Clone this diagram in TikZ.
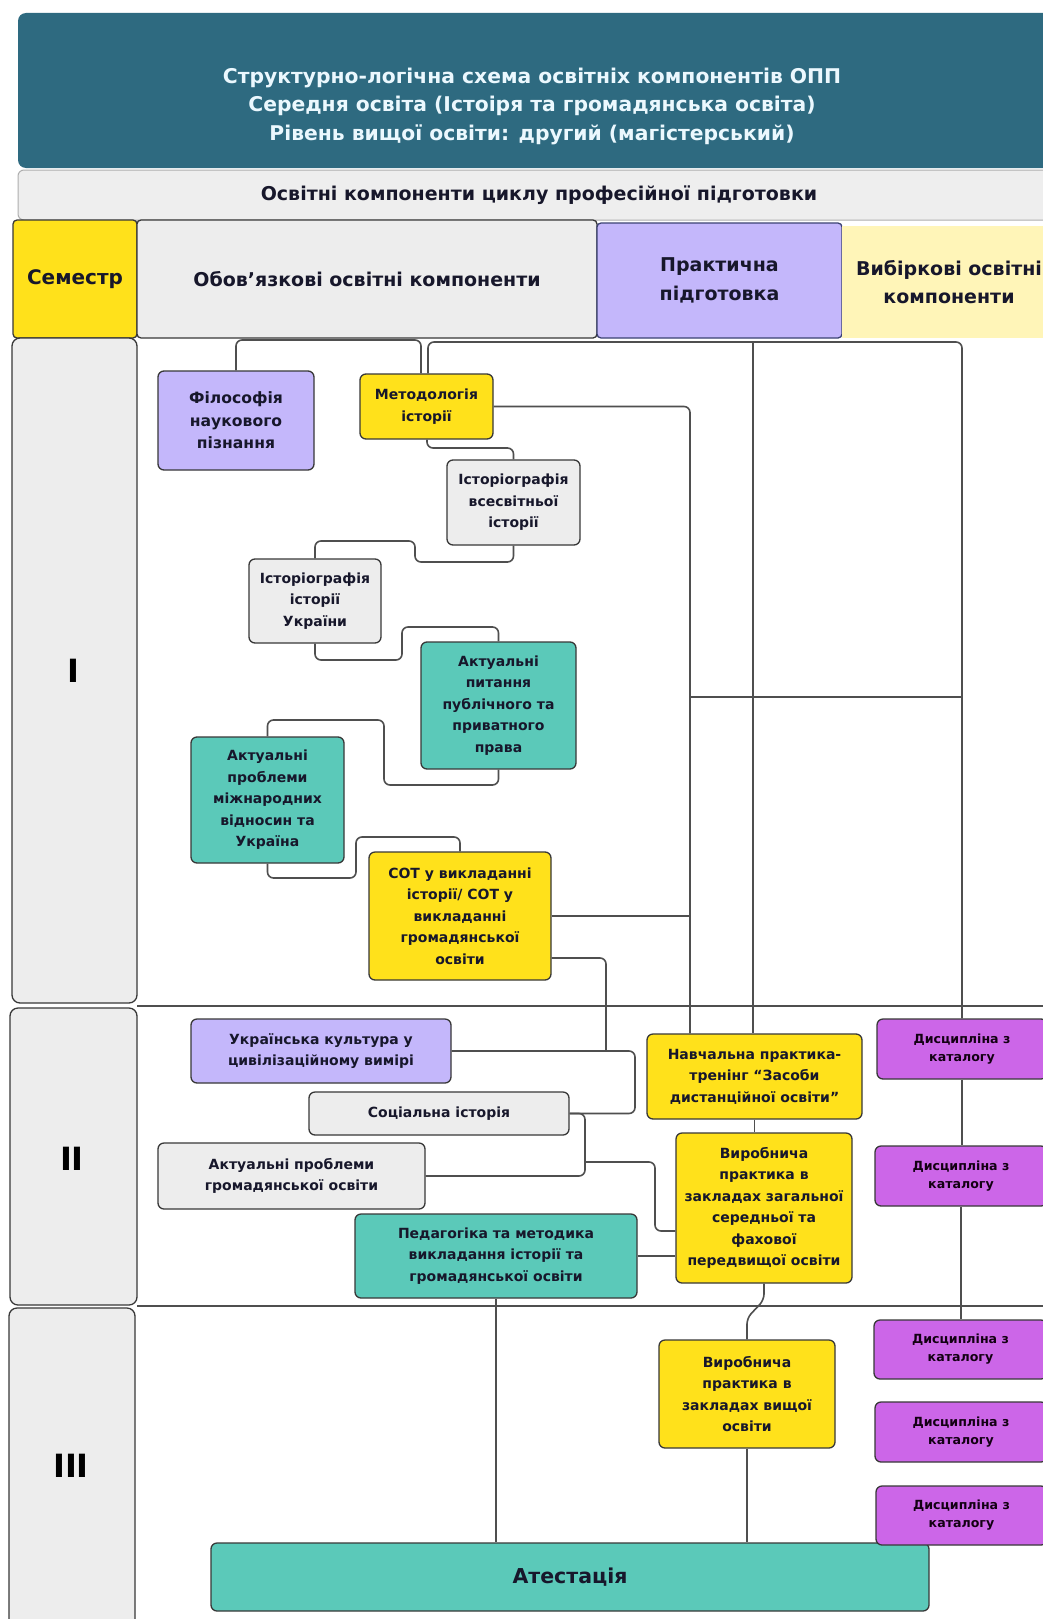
\documentclass[tikz,border=0pt]{standalone}
\usepackage{fontspec}
\setmainfont{DejaVu Sans}
\definecolor{hdrteal}{HTML}{2E6A80}
\definecolor{bandgrey}{HTML}{EEEEEE}
\definecolor{yel}{HTML}{FFE11B}
\definecolor{lav}{HTML}{C4B7FB}
\definecolor{lyel}{HTML}{FFF5B8}
\definecolor{tealb}{HTML}{5BC9B9}
\definecolor{mag}{HTML}{CC66E8}
\definecolor{gbox}{HTML}{EDEDED}
\definecolor{bord}{HTML}{383838}
\definecolor{lnc}{HTML}{4F4F4F}
\definecolor{txt}{HTML}{17172B}
\definecolor{navyb}{HTML}{3B4272}
\newcommand\mkbox[7]{%
  \pgfmathsetmacro\mkbW{#5-#3}%
  \pgfmathsetmacro\mkbH{#6-#4}%
  \pgfmathsetmacro\mkbX{(#3+#5)/2}%
  \pgfmathsetmacro\mkbY{(#4+#6)/2}%
  \node[#2, minimum width=\mkbW pt, minimum height=\mkbH pt] (#1) at (\mkbX,\mkbY) {#7};}
\begin{document}
\begin{tikzpicture}[x=1pt,y=-1pt,
  box/.style={draw=bord, line width=1.3pt, rounded corners=6pt, align=center, text=txt, inner sep=1pt,
    font=\bfseries\fontsize{14}{21.5}\selectfont},
  hbox/.style={box, font=\bfseries\fontsize{19}{28.5}\selectfont},
  dbox/.style={box, fill=mag, text=black!85!violet, font=\bfseries\fontsize{12.6}{18}\selectfont},
  semlab/.style={font=\bfseries\fontsize{32}{36}\selectfont, text=black},
  conn/.style={draw=lnc, line width=1.6pt, rounded corners=6pt},
  rowline/.style={draw=lnc, line width=1.8pt}]
\useasboundingbox (0,0) rectangle (1043,1619);
\clip (0,0) rectangle (1043,1619);
\fill[white] (0,0) rectangle (1043,1619);

% header
\mkbox{hdr}{draw=none, fill=hdrteal, rounded corners=8pt}{18}{13}{1070}{168}{}
\node[align=center, text=white!92!cyan, font=\bfseries\fontsize{20.3}{28.5}\selectfont] (hdrtxt) at (532,106)
  {Структурно-логічна схема освітніх компонентів ОПП\\Середня освіта (Істоіря та громадянська освіта)\\Рівень вищої освіти: другий (магістерський)};
\mkbox{band}{hbox, draw=bord!40, line width=1pt, fill=bandgrey}{18}{170}{1060}{220}{Освітні компоненти циклу професійної підготовки}

% column headers
\mkbox{sem}{hbox, fill=yel, rounded corners=4pt, font=\bfseries\fontsize{20}{28.5}\selectfont}{13}{220}{137}{338}{Семестр}
\mkbox{obl}{hbox, fill=gbox, rounded corners=4pt}{137}{220}{597}{338}{Обов'язкові освітні компоненти}
\mkbox{pra}{hbox, fill=lav, draw=navyb, rounded corners=4pt}{597}{223}{842}{338}{Практична\\підготовка}
\mkbox{vyb}{hbox, draw=none, fill=lyel, rounded corners=0pt}{842}{226}{1056}{338}{Вибіркові освітні\\компоненти}

% semester column
\mkbox{semI}{box, fill=gbox, rounded corners=8pt}{12}{338}{137}{1003}{}
\mkbox{semII}{box, fill=gbox, rounded corners=8pt}{10}{1008}{137}{1305}{}
\mkbox{semIII}{box, fill=gbox, rounded corners=8pt}{9}{1308}{135}{1650}{}
\node[semlab] (labI) at (73,671) {I};
\node[semlab] (labII) at (72,1159) {II};
\node[semlab] (labIII) at (71,1466) {III};

% row separators
\draw[rowline] (137,1006) -- (1043,1006);
\draw[rowline] (137,1306) -- (1043,1306);

% semester I boxes
\mkbox{fil}{box, fill=lav, font=\bfseries\fontsize{15.6}{22.5}\selectfont}{158}{371}{314}{470}{Філософія\\наукового\\пізнання}
\mkbox{met}{box, fill=yel}{360}{374}{493}{439}{Методологія\\історії}
\mkbox{isv}{box, fill=gbox}{447}{460}{580}{545}{Історіографія\\всесвітньої\\історії}
\mkbox{isu}{box, fill=gbox}{249}{559}{381}{643}{Історіографія\\історії\\України}
\mkbox{app}{box, fill=tealb}{421}{642}{576}{769}{Актуальні\\питання\\публічного та\\приватного\\права}
\mkbox{apm}{box, fill=tealb}{191}{737}{344}{863}{Актуальні\\проблеми\\міжнародних\\відносин та\\Україна}
\mkbox{sot}{box, fill=yel}{369}{852}{551}{980}{СОТ у викладанні\\історії/ СОТ у\\викладанні\\громадянської\\освіти}

% semester II boxes
\mkbox{ukr}{box, fill=lav}{191}{1019}{451}{1083}{Українська культура у\\цивілізаційному вимірі}
\mkbox{soc}{box, fill=gbox}{309}{1092}{569}{1135}{Соціальна історія}
\mkbox{apg}{box, fill=gbox}{158}{1143}{425}{1209}{Актуальні проблеми\\громадянської освіти}
\mkbox{ped}{box, fill=tealb}{355}{1214}{637}{1298}{Педагогіка та методика\\викладання історії та\\громадянської освіти}
\mkbox{nav}{box, fill=yel}{647}{1034}{862}{1119}{Навчальна практика-\\тренінг “Засоби\\дистанційної освіти”}
\mkbox{vp1}{box, fill=yel}{676}{1133}{852}{1283}{Виробнича\\практика в\\закладах загальної\\середньої та\\фахової\\передвищої освіти}

% semester III boxes
\mkbox{vp2}{box, fill=yel}{659}{1340}{835}{1448}{Виробнича\\практика в\\закладах вищої\\освіти}
\mkbox{att}{box, fill=tealb, font=\bfseries\fontsize{20.5}{24}\selectfont}{211}{1543}{929}{1611}{Атестація}

% elective boxes
\mkbox{d1}{dbox}{877}{1019}{1047}{1079}{Дисципліна з\\каталогу}
\mkbox{d2}{dbox}{875}{1146}{1047}{1206}{Дисципліна з\\каталогу}
\mkbox{d3}{dbox}{874}{1320}{1047}{1379}{Дисципліна з\\каталогу}
\mkbox{d4}{dbox}{875}{1402}{1047}{1462}{Дисципліна з\\каталогу}
\mkbox{d5}{dbox}{876}{1486}{1047}{1545}{Дисципліна з\\каталогу}

% connectors
\coordinate (jp) at (753,342);
\coordinate (jm) at (690,697);
\coordinate (js) at (585,1162);
\draw[conn] (fil.north) |- (421,340) -- (met.north -| 421,0);
\draw[conn] (met.north -| 428,0) |- (962,342) -- (d1.north);
\draw[conn] (jp) -- (nav.north -| jp);
\draw[conn] (met.east) -| (nav.north -| jm);
\draw[conn] (jm) -- (jm -| d1.north);
\draw[conn] (met.south -| 427,0) |- (isv.north |- 0,448) -- (isv.north);
\draw[conn] (isv.south) -- (isv.south |- 0,562) -- (415,562) -- (415,541) -- (isu.north |- 0,541) -- (isu.north);
\draw[conn] (isu.south) -- (isu.south |- 0,660) -- (402,660) -- (402,627) -- (app.north |- 0,627) -- (app.north);
\draw[conn] (app.south) -- (app.south |- 0,785) -- (384,785) -- (384,720) -- (apm.north |- 0,720) -- (apm.north);
\draw[conn] (apm.south) -- (apm.south |- 0,878) -- (356,878) -- (356,837) -- (sot.north |- 0,837) -- (sot.north);
\draw[conn] (sot.east) -- (sot.east -| jm);
\draw[conn] (sot.east |- 0,958) -| (606,1051);
\draw[conn] (ukr.east) -- (635,1051) |- (soc.east);
\draw[conn] (soc.east) -- (585,1113.5) |- (apg.east);
\draw[conn] (js) -| (655,1231) -- (vp1.west |- 0,1231);
\draw[conn] (ped.east) -- (ped.east -| vp1.west);
\draw[conn] (nav.south) -- (nav.south |- vp1.north);
\draw[conn] (vp1.south) -- (vp1.south |- 0,1300) -- (vp2.north |- 0,1318) -- (vp2.north);
\draw[conn] (vp2.south) -- (vp2.south |- att.north);
\draw[conn] (ped.south) -- (ped.south |- att.north);
\draw[conn] (d1.south) -- (d1.south |- d2.north);
\draw[conn] (d2.south) -- (d2.south |- d3.north);
\end{tikzpicture}
\end{document}
